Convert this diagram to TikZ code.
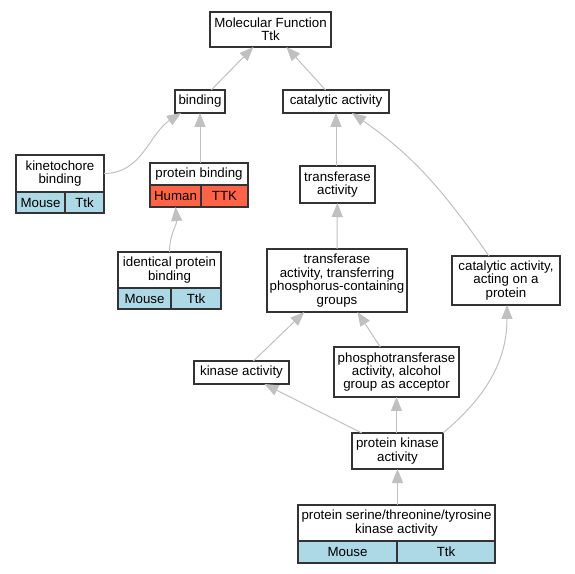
\documentclass[tikz,border=0pt]{standalone}
\usepackage{fontspec}
\setmainfont{Liberation Sans}
\usetikzlibrary{arrows.meta,positioning}
\definecolor{edgegray}{HTML}{C0C0C0}
\definecolor{boxline}{HTML}{333333}
\definecolor{mousecell}{HTML}{ADD8E6}
\definecolor{humancell}{HTML}{FF6347}
\tikzset{
  term/.style={draw=boxline,line width=1.1pt,fill=white,align=center,inner sep=0pt,outer sep=0pt,
    font=\fontsize{13.3}{13.4}\selectfont},
  cell/.style={term,anchor=north west},
  mouse/.style={cell,fill=mousecell},
  human/.style={cell,fill=humancell},
  isa/.style={draw=edgegray,line width=1pt,-{Triangle[length=14pt,width=11pt,color=edgegray]}}
}
\begin{document}
\begin{tikzpicture}[x=1pt,y=1pt]
      \useasboundingbox (0,0) rectangle (575,573);
      \draw
        (270.5,543.5) node[term,minimum width=121,minimum height=35] (mf){Molecular Function\\Ttk}
        (200,471.5) node[term,minimum width=50,minimum height=23] (bind){binding}
        (336,471.5) node[term,minimum width=106,minimum height=23] (cat){catalytic activity}
        (60,399.5) node[term,minimum width=88,minimum height=37] (kb){kinetochore\\binding}
        (199,399) node[term,minimum width=98,minimum height=22] (pb){protein binding}
        (337.5,388.5) node[term,minimum width=75,minimum height=37] (ta){transferase\\activity}
        (169.5,303) node[term,minimum width=103,minimum height=36] (ipb){identical protein\\binding}
        (337,292.5) node[term,minimum width=140,minimum height=63] (tt){transferase\\activity, transferring\\phosphorus-containing\\groups}
        (506,292.5) node[term,minimum width=108,minimum height=49] (cap){catalytic activity,\\acting on a\\protein}
        (241.5,200.5) node[term,minimum width=95,minimum height=23] (ka){kinase activity}
        (396.5,201) node[term,minimum width=125,minimum height=50] (pt){phosphotransferase\\activity, alcohol\\group as acceptor}
        (397.5,122) node[term,minimum width=91,minimum height=36] (pk){protein kinase\\activity}
        (396.5,50) node[term,minimum width=197,minimum height=36] (ps){protein serine/threonine/tyrosine\\kinase activity};
      % species rows
      \node[mouse,minimum width=49,minimum height=21] (kb-l) at (kb.south west) {Mouse};
      \node[mouse,minimum width=39,minimum height=21] (kb-r) at (kb-l.north east) {Ttk};
      \node[human,minimum width=51,minimum height=22] (pb-l) at (pb.south west) {Human};
      \node[human,minimum width=47,minimum height=22] (pb-r) at (pb-l.north east) {TTK};
      \node[mouse,minimum width=53,minimum height=21] (ipb-l) at (ipb.south west) {Mouse};
      \node[mouse,minimum width=50,minimum height=21] (ipb-r) at (ipb-l.north east) {Ttk};
      \node[mouse,minimum width=99,minimum height=22] (ps-l) at (ps.south west) {Mouse};
      \node[mouse,minimum width=98,minimum height=22] (ps-r) at (ps-l.north east) {Ttk};
      \begin{scope}[isa]
        \draw (bind) to (mf);
        \draw (cat) to (mf);
        \draw (kb.east) to[out=0,in=-147] ([xshift=6pt]bind.south west);
        \draw (pb.north -| bind) to (bind);
        \draw (ipb.north) to[out=90,in=-85] (pb-l.south);
        \draw (ta.north -| cat) to (cat);
        \draw ([xshift=-17pt]cap.north) to[out=125,in=-35] ([xshift=16pt]cat.south);
        \draw (tt.north) to (ta);
        \draw (ka) to (tt);
        \draw (pt) to (tt);
        \draw (pk) to (ka);
        \draw (pk.north -| pt) to (pt);
        \draw (pk.north east) to[out=40,in=-90] ([xshift=1pt]cap.south);
        \draw (ps.north -| pk) to (pk);
      \end{scope}
    \end{tikzpicture}
\end{document}
